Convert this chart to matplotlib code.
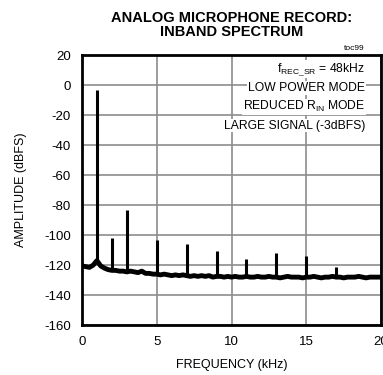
import matplotlib.pyplot as plt
import numpy as np

# noise floor, every 0.25 kHz from 0 to 20 kHz
floor_f = np.arange(0, 20.01, 0.25)
floor_db = [-120.5, -121, -121.5, -120, -117, -120.5, -122, -123, -123.5, -123.5,
            -124, -124, -124.5, -124, -124.5, -125, -124, -125.5, -125.5, -126,
            -126, -126.5, -126, -126.5, -127, -126.5, -127, -126.5, -127, -127.5,
            -127, -127.5, -127, -127.5, -127, -128, -127.5, -127.5, -128, -127.5,
            -128, -127.5, -128, -128, -127.5, -128, -128, -127.5, -128, -128,
            -127.5, -128, -128, -128.5, -128, -127.5, -128, -128, -128, -128.5,
            -128, -128, -127.5, -128, -128.5, -128, -128, -127.5, -128, -128,
            -128.5, -128, -128, -128, -127.5, -128, -128.5, -128, -128, -128, -128]

# harmonic spikes (kHz, dBFS)
spike_f = [1, 2, 3, 4, 5, 7, 9, 11, 13, 15, 17]
spike_db = [-3, -102, -83, -123, -103, -106, -110.5, -116, -112, -114, -121]

plt.rcParams['font.family'] = ['Liberation Sans', 'DejaVu Sans']
plt.rcParams['axes.unicode_minus'] = False

fig = plt.figure(figsize=(3.83, 3.75), dpi=100)
ax = fig.add_axes([0.214, 0.133, 0.781, 0.72])

ax.plot(floor_f, floor_db, color='black', lw=3.5, solid_joinstyle='round')
base = np.interp(spike_f, floor_f, floor_db)
ax.vlines(spike_f, base, spike_db, color='black', lw=2.2)

ax.set_xlim(0, 20)
ax.set_ylim(-160, 20)
ax.set_xticks([0, 5, 10, 15, 20])
ax.set_yticks(np.arange(-160, 21, 20))
ax.grid(True, color='#8c8c8c', lw=1.2)
ax.set_axisbelow(True)
for s in ax.spines.values():
    s.set_linewidth(2)
ax.tick_params(length=0, labelsize=9.5, pad=8)
ax.set_xlabel('FREQUENCY (kHz)', fontsize=9, labelpad=8)
ax.set_ylabel('AMPLITUDE (dBFS)', fontsize=9, labelpad=12)

fig.text(0.605, 0.972, 'ANALOG MICROPHONE RECORD:\nINBAND SPECTRUM', ha='center', va='top',
         fontsize=10.5, fontweight='bold', linespacing=1.0)
fig.text(0.953, 0.862, 'toc99', ha='right', va='bottom', fontsize=6)

lines = [r'f$_{\mathregular{REC\_SR}}$ = 48kHz', 'LOW POWER MODE',
         r'REDUCED R$_{\mathregular{IN}}$ MODE', 'LARGE SIGNAL (-3dBFS)']
line_y = [10.5, -2, -14.5, -27]
for t, y in zip(lines, line_y):
    ax.text(18.93, y, t, ha='right', va='center', fontsize=8.7,
            bbox=dict(facecolor='white', edgecolor='none', pad=0.5))

fig.savefig('out.png', dpi=100)
